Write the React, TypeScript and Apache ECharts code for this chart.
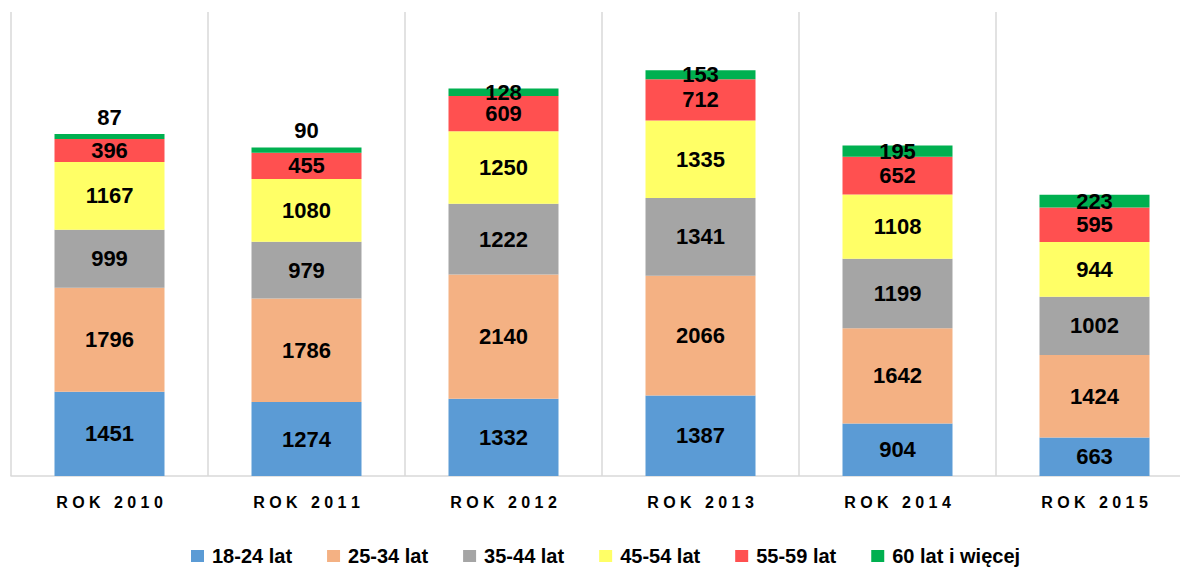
import React, { useEffect, useRef } from "react";
import * as echarts from "echarts";

const categories = ["R O K   2 0 1 0", "R O K   2 0 1 1", "R O K   2 0 1 2", "R O K   2 0 1 3", "R O K   2 0 1 4", "R O K   2 0 1 5"];
const seriesNames = ["18-24 lat", "25-34 lat", "35-44 lat", "45-54 lat", "55-59 lat", "60 lat i więcej"];
const s1824 = [1451, 1274, 1332, 1387, 904, 663];
const s2534 = [1796, 1786, 2140, 2066, 1642, 1424];
const s3544 = [999, 979, 1222, 1341, 1199, 1002];
const s4554 = [1167, 1080, 1250, 1335, 1108, 944];
const s5559 = [396, 455, 609, 712, 652, 595];
const s60 = [87, 90, 128, 153, 195, 223];
const colors = ["#5B9BD5", "#F4B183", "#A5A5A5", "#FFFF66", "#FF5050", "#00B050"];
const labelOnTop = [true, true, false, false, false, false];

const FONT = "'Liberation Sans', Arial, sans-serif";

export default function App() {
  const ref = useRef<HTMLDivElement>(null);
  useEffect(() => {
    if (!ref.current) return;
    const chart = echarts.init(ref.current, undefined, { renderer: "svg" });
    const all = [s1824, s2534, s3544, s4554, s5559, s60];
    const labelStyle = {
      show: true,
      position: "inside",
      color: "#000",
      fontWeight: "bold",
      fontSize: 22,
      fontFamily: FONT,
    };
    const series = all.map((arr, i) => ({
      name: seriesNames[i],
      type: "bar",
      stack: "total",
      barWidth: 110,
      itemStyle: { color: colors[i] },
      label: labelStyle,
      data:
        i === 5
          ? arr.map((v, j) => ({
              value: v,
              label: labelOnTop[j]
                ? { ...labelStyle, position: "top", distance: 6 }
                : labelStyle,
            }))
          : arr,
    }));
    chart.setOption({
      animation: false,
      grid: { left: 11, top: 12, width: 1182, height: 464, outerBoundsMode: "none", containLabel: false },
      legend: {
        left: 191,
        top: 545,
        padding: 0,
        itemWidth: 13,
        itemHeight: 12,
        itemGap: 35,
        icon: "rect",
        textStyle: {
          color: "#000",
          fontWeight: "bold",
          fontSize: 20,
          lineHeight: 22,
          fontFamily: FONT,
          padding: [0, 0, 0, 3],
        },
        data: seriesNames,
      },
      xAxis: {
        type: "category",
        data: categories,
        axisLine: { show: true, lineStyle: { color: "#d9d9d9", width: 1.5 } },
        axisTick: { show: false },
        splitLine: { show: true, lineStyle: { color: "#d9d9d9", width: 1.5 } },
        axisLabel: {
          color: "#000",
          fontWeight: "bold",
          fontSize: 16,
          margin: 18,
          fontFamily: FONT,
        },
      },
      yAxis: {
        type: "value",
        min: 0,
        max: 8000,
        show: false,
        splitLine: { show: false },
      },
      series,
    });
    return () => chart.dispose();
  }, []);
  return (
    <div
      ref={ref}
      style={{ position: "fixed", left: 0, top: 0, width: 1180, height: 567, background: "#fff" }}
    />
  );
}
